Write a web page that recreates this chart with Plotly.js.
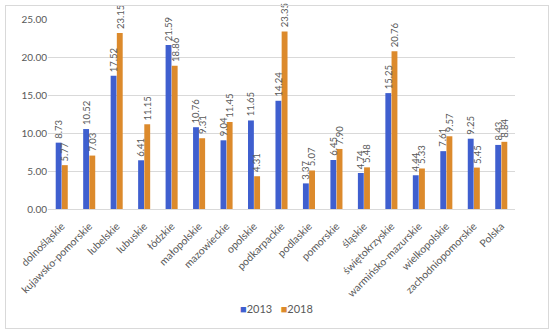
<!DOCTYPE html>
<html><head><meta charset="utf-8">
<script src="https://cdn.plot.ly/plotly-3.0.1.min.js"></script>
<style>html,body{margin:0;padding:0;background:#fff}#frame{position:absolute;left:5px;top:5px;width:542px;height:322px;border:1px solid #d9d9d9;pointer-events:none}</style>
</head><body>
<div id="chart" style="width:550px;height:333px;"></div>
<div id="frame"></div>
<script>
const categories = ["dolnośląskie","kujawsko-pomorskie","lubelskie","lubuskie","łódzkie","małopolskie","mazowieckie","opolskie","podkarpackie","podlaskie","pomorskie","śląskie","świętokrzyskie","warmińsko-mazurskie","wielkopolskie","zachodniopomorskie","Polska"];
const seriesNames = ["2013","2018"];
const values2013 = [8.73,10.52,17.52,6.41,21.59,10.76,9.04,11.65,14.24,3.37,6.45,4.74,15.25,4.44,7.61,9.25,8.43];
const values2018 = [5.77,7.03,23.15,11.15,18.86,9.31,11.45,4.31,23.35,5.07,7.90,5.48,20.76,5.33,9.57,5.45,8.84];
const yTicks = [0,5,10,15,20,25];

const font = "Lato, sans-serif";
const txt = '#595959';
const colors = ['#3f5fcf','#dc8a2c'];
function trace(name, vals, color){
  return {type:'bar', name:name, x:categories, y:vals, marker:{color:color}, hoverinfo:'none', showlegend:false};
}
const data = [trace(seriesNames[0], values2013, colors[0]), trace(seriesNames[1], values2018, colors[1])];
const annotations = [];
[[values2013,-3.2],[values2018,3.2]].forEach(([vals,shift])=>{
  vals.forEach((v,i)=>annotations.push({x:categories[i], y:v, xref:'x', yref:'y', text:v.toFixed(2),
    showarrow:false, textangle:-90, yanchor:'bottom', xanchor:'center', xshift:shift, yshift:2,
    font:{family:font,size:9.5,color:txt}}));
});
// legend drawn as text with coloured square glyphs
annotations.push({xref:'paper', yref:'paper', x:0.49, y:-0.526, xanchor:'center', yanchor:'middle', showarrow:false,
  text: seriesNames.map((n,i)=>`<span style="color:${colors[i]}">■</span>${n}`).join('   '),
  font:{family:font,size:11,color:txt}});
const layout = {
  width:550, height:333,
  margin:{l:48,r:35,t:19,b:124},
  paper_bgcolor:'#fff', plot_bgcolor:'#fff',
  bargap:0.55, bargroupgap:0.05,
  font:{family:font,size:11,color:txt},
  annotations: annotations,
  showlegend:false,
  xaxis:{tickangle:-45, automargin:false, showline:true, linecolor:'#d9d9d9', ticks:'', ticklabelstandoff:6, tickfont:{family:font,size:10.5,color:txt}},
  yaxis:{range:[0,25], automargin:false, tickvals:yTicks, ticktext:yTicks.map(v=>v.toFixed(2)), gridcolor:'#d9d9d9', zeroline:false, showline:false, tickfont:{family:font,size:10,color:txt}}
};
Plotly.newPlot('chart', data, layout, {displayModeBar:false, staticPlot:true});
</script>
</body></html>
